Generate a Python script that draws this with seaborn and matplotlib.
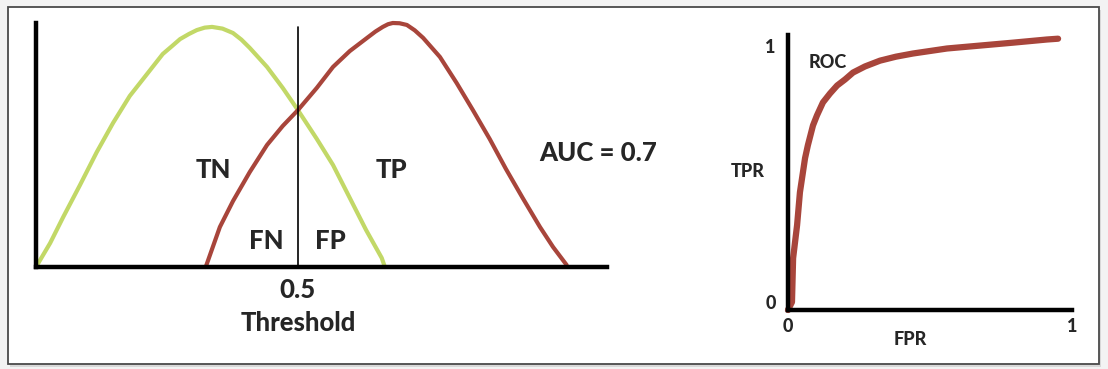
import matplotlib
matplotlib.use("Agg")
import matplotlib.pyplot as plt
from matplotlib.patches import Rectangle
import seaborn as sns
import pandas as pd

# Score distributions (left panel), threshold at 0.5
neg_x = [0.0, 0.027, 0.052, 0.084, 0.116, 0.147, 0.179, 0.212, 0.242, 0.260, 0.275, 0.292, 0.307,
         0.322, 0.336, 0.356, 0.376, 0.392, 0.408, 0.441, 0.471, 0.500, 0.536, 0.567, 0.599,
         0.630, 0.660, 0.666]
neg_y = [0.0, 0.098, 0.205, 0.336, 0.471, 0.590, 0.701, 0.791, 0.873, 0.906, 0.934, 0.955, 0.971,
         0.981, 0.984, 0.977, 0.959, 0.932, 0.898, 0.820, 0.734, 0.643, 0.525, 0.418, 0.283,
         0.152, 0.037, 0.0]
pos_x = [0.324, 0.351, 0.376, 0.408, 0.441, 0.471, 0.500, 0.536, 0.567, 0.599, 0.632, 0.648,
         0.662, 0.672, 0.681, 0.694, 0.708, 0.723, 0.739, 0.771, 0.803, 0.834, 0.866, 0.897,
         0.929, 0.962, 0.987, 1.013]
pos_y = [0.0, 0.164, 0.270, 0.389, 0.500, 0.578, 0.643, 0.734, 0.820, 0.885, 0.939, 0.965,
         0.984, 0.995, 1.0, 0.999, 0.992, 0.970, 0.939, 0.861, 0.754, 0.643, 0.525, 0.402,
         0.283, 0.164, 0.082, 0.008]
threshold = 0.5

# ROC curve (right panel)
fpr = [0.0, 0.014, 0.018, 0.032, 0.042, 0.060, 0.070, 0.088, 0.102, 0.123, 0.148, 0.173,
       0.201, 0.229, 0.271, 0.324, 0.380, 0.440, 0.560, 0.676, 0.792, 0.912, 0.951]
tpr = [0.0, 0.030, 0.196, 0.321, 0.445, 0.574, 0.623, 0.698, 0.736, 0.785, 0.819, 0.849,
       0.872, 0.898, 0.921, 0.943, 0.958, 0.970, 0.989, 1.0, 1.011, 1.023, 1.026]

green = "#c2d867"
red = "#a8453b"

sns.set_style("white")
plt.rcParams['font.family'] = ['Lato', 'DejaVu Sans']

fig = plt.figure(figsize=(11.08, 3.69), dpi=100)
fig.patch.set_facecolor("#f3f3f3")
# framed white card behind the plots
fig.patches.append(Rectangle((10 / 1108, 1 - 367 / 369), 1091 / 1108, 357 / 369,
                             transform=fig.transFigure, facecolor="#d8d8d8", edgecolor="none", zorder=-2))
fig.patches.append(Rectangle((8 / 1108, 1 - 364 / 369), 1091 / 1108, 357 / 369,
                             transform=fig.transFigure, facecolor="white", edgecolor="#4a4a4a",
                             linewidth=1.3, zorder=-1))

W = 900     # heaviest available weight
fs = 18.5   # left panel text
fs2 = 13    # right panel text

# ---- left panel: distributions ----
ax1 = fig.add_axes([36 / 1108, 1 - 267 / 369, 571 / 1108, 244 / 369])
ax1.patch.set_alpha(0)
neg = pd.DataFrame({"x": neg_x, "y": neg_y})
pos = pd.DataFrame({"x": pos_x, "y": pos_y})
sns.lineplot(data=neg, x="x", y="y", color=green, linewidth=3, estimator=None, ax=ax1, clip_on=False)
sns.lineplot(data=pos, x="x", y="y", color=red, linewidth=3, estimator=None, ax=ax1, clip_on=False)
ax1.axvline(threshold, ymin=0, ymax=0.984, color="black", linewidth=1.2)
ax1.set_xlim(0, 1.09)
ax1.set_ylim(0, 1.0)
sns.despine(ax=ax1)
for s in ["left", "bottom"]:
    ax1.spines[s].set_linewidth(3.2)
    ax1.spines[s].set_color("black")
ax1.set_xticks([threshold], ["0.5"])
ax1.set_yticks([])
ax1.tick_params(axis="x", length=0, pad=8, labelsize=fs)
for lab in ax1.get_xticklabels():
    lab.set_fontweight(W)
ax1.set_xlabel("Threshold", fontsize=fs, fontweight=W)
ax1.xaxis.set_label_coords(0.459, -0.18)
ax1.set_ylabel("")
ax1.text(0.338, 0.398, "TN", ha="center", va="center", fontsize=fs, fontweight=W)
ax1.text(0.679, 0.398, "TP", ha="center", va="center", fontsize=fs, fontweight=W)
ax1.text(0.439, 0.107, "FN", ha="center", va="center", fontsize=fs, fontweight=W)
ax1.text(0.561, 0.107, "FP", ha="center", va="center", fontsize=fs, fontweight=W)
ax1.text(1.073, 0.467, "AUC = 0.7", ha="center", va="center", fontsize=fs, fontweight=W,
         clip_on=False)

# ---- right panel: ROC ----
ax2 = fig.add_axes([788 / 1108, 1 - 310 / 369, 284 / 1108, 275 / 369])
ax2.patch.set_alpha(0)
roc = pd.DataFrame({"FPR": fpr, "TPR": tpr})
sns.lineplot(data=roc, x="FPR", y="TPR", color=red, linewidth=4.5, estimator=None, ax=ax2,
             clip_on=False, solid_capstyle="round")
ax2.set_xlim(0, 1)
ax2.set_ylim(0, 1.04)
sns.despine(ax=ax2)
for s in ["left", "bottom"]:
    ax2.spines[s].set_linewidth(3.2)
    ax2.spines[s].set_color("black")
ax2.set_xticks([0, 1], ["0", "1"])
ax2.set_yticks([0.03, 1.0], ["0", "1"])
ax2.tick_params(length=0, labelsize=fs2)
ax2.tick_params(axis="x", pad=6)
ax2.tick_params(axis="y", pad=9)
for lab in ax2.get_xticklabels() + ax2.get_yticklabels():
    lab.set_fontweight(W)
ax2.set_xlabel("FPR", fontsize=fs2, fontweight=W)
ax2.xaxis.set_label_coords(0.43, -0.075)
ax2.set_ylabel("TPR", fontsize=fs2, fontweight=W, rotation=0, va="center", ha="center")
ax2.yaxis.set_label_coords(-0.141, 0.502)
ax2.text(0.141, 0.936, "ROC", ha="center", va="center", fontsize=fs2, fontweight=W)

fig.savefig("out.png", dpi=100, facecolor=fig.get_facecolor())
